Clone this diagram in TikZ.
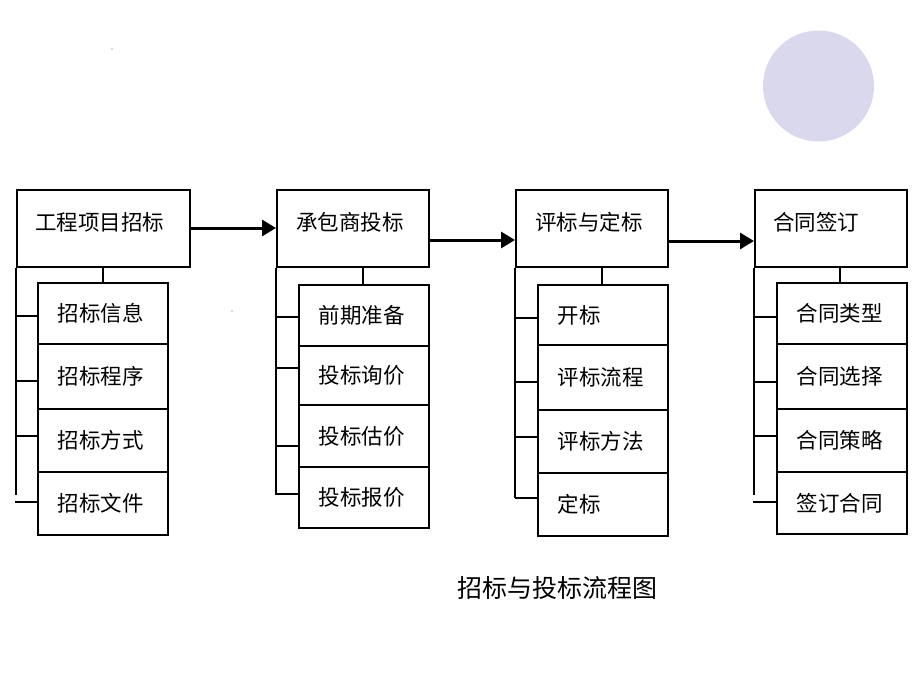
\documentclass[tikz,border=0pt]{standalone}
\usepackage{fontspec}
\newfontfamily\cjk{Noto Sans CJK SC}
\usetikzlibrary{arrows.meta}
\definecolor{lav}{HTML}{D9D8EC}
\begin{document}
\begin{tikzpicture}[x=1pt,y=-1pt,
  boxline/.style={draw=black, line width=1.8pt},
  mainbox/.style={boxline, inner sep=0pt, anchor=north west, minimum width=#1, minimum height=77pt},
  subbox/.style={boxline, anchor=north west, minimum width=130pt, inner xsep=20pt, inner ysep=0pt,
     text width=90pt, align=left, font=\cjk\fontsize{21.5}{24}\selectfont},
  mainlbl/.style={anchor=west, inner sep=0pt, font=\cjk\fontsize{21.5}{24}\selectfont},
  conn/.style={line width=1.8pt},
  flow/.style={line width=3pt, -{Triangle[length=14pt,width=16pt]}}]
\useasboundingbox (0,0) rectangle (920,690);
\fill[white] (0,0) rectangle (920,690);
% decoration circle
\fill[lav] (818.5,86) circle (55.5pt);
\fill[black!60] (112,49) circle (0.6pt);
\fill[black!60] (232,311) circle (0.6pt);

% ---------- column 1
\node[mainbox=173pt] (m1) at (16,189) {};
\node[mainlbl] (m1t) at ([xshift=19pt,yshift=-33pt]m1.north west) {工程项目招标};
\node[subbox, minimum height=61pt] (a1) at (37,282) {招标信息};
\node[subbox, minimum height=65pt] (a2) at (37,343) {招标程序};
\node[subbox, minimum height=63pt] (a3) at (37,408) {招标方式};
\node[subbox, minimum height=63pt] (a4) at (37,471) {招标文件};
\draw[conn] (m1.south -| a1.north) ++(-1,0) coordinate (c1) (103,266) -- (103,282);
\coordinate (l1) at (16,495);
\draw[conn] (m1.south west) -- (l1);
\draw[conn] (16,316) -- (a1.west |- 0,316);
\draw[conn] (16,381) -- (a2.west |- 0,381);
\draw[conn] (16,436) -- (a3.west |- 0,436);
\draw[conn] (15,502) -- (a4.west |- 0,502);

% ---------- column 2
\node[mainbox=152pt] (m2) at (276,189) {};
\node[mainlbl] (m2t) at ([xshift=20pt,yshift=-33pt]m2.north west) {承包商投标};
\node[subbox, minimum height=61pt] (b1) at (298,284) {前期准备};
\node[subbox, minimum height=59pt] (b2) at (298,345) {投标询价};
\node[subbox, minimum height=62pt] (b3) at (298,404) {投标估价};
\node[subbox, minimum height=61pt] (b4) at (298,466) {投标报价};
\draw[conn] (363,266) -- (363,284);
\coordinate (l2) at (276,495);
\draw[conn] (m2.south west) -- (l2);
\draw[conn] (276,317) -- (b1.west |- 0,317);
\draw[conn] (276,368) -- (b2.west |- 0,368);
\draw[conn] (276,446) -- (b3.west |- 0,446);
\draw[conn] (276,494) -- (b4.west |- 0,494);

% ---------- column 3
\node[mainbox=152pt] (m3) at (515,189) {};
\node[mainlbl] (m3t) at ([xshift=20pt,yshift=-33pt]m3.north west) {评标与定标};
\node[subbox, minimum height=60pt] (e1) at (537,284) {开标};
\node[subbox, minimum height=65pt] (e2) at (537,344) {评标流程};
\node[subbox, minimum height=63pt] (e3) at (537,409) {评标方法};
\node[subbox, minimum height=63pt] (e4) at (537,472) {定标};
\draw[conn] (602,266) -- (602,284);
\coordinate (l3) at (515,498);
\draw[conn] (m3.south west) -- (l3);
\draw[conn] (515,318) -- (e1.west |- 0,318);
\draw[conn] (515,382) -- (e2.west |- 0,382);
\draw[conn] (515,437) -- (e3.west |- 0,437);
\draw[conn] (515,498) -- (e4.west |- 0,498);

% ---------- column 4
\node[mainbox=152pt] (m4) at (754,189) {};
\node[mainlbl] (m4t) at ([xshift=19pt,yshift=-33pt]m4.north west) {合同签订};
\node[subbox, minimum height=61pt] (h1) at (776,282) {合同类型};
\node[subbox, minimum height=65pt] (h2) at (776,343) {合同选择};
\node[subbox, minimum height=63pt] (h3) at (776,408) {合同策略};
\node[subbox, minimum height=62pt] (h4) at (776,471) {签订合同};
\draw[conn] (840,266) -- (840,282);
\coordinate (l4) at (754,495);
\draw[conn] (m4.south west) -- (l4);
\draw[conn] (754,317) -- (h1.west |- 0,317);
\draw[conn] (754,382) -- (h2.west |- 0,382);
\draw[conn] (754,436) -- (h3.west |- 0,436);
\draw[conn] (753,502) -- (h4.west |- 0,502);

% ---------- flow arrows
\draw[flow] (m1.east |- 0,228) -- (m2.west |- 0,228);
\draw[flow] (m2.east |- 0,240) -- (m3.west |- 0,240);
\draw[flow] (m3.east |- 0,241) -- (m4.west |- 0,241);

% ---------- title
\node[font=\cjk\fontsize{25}{30}\selectfont, inner sep=0pt] (title) at (557,588) {招标与投标流程图};
\end{tikzpicture}
\end{document}
